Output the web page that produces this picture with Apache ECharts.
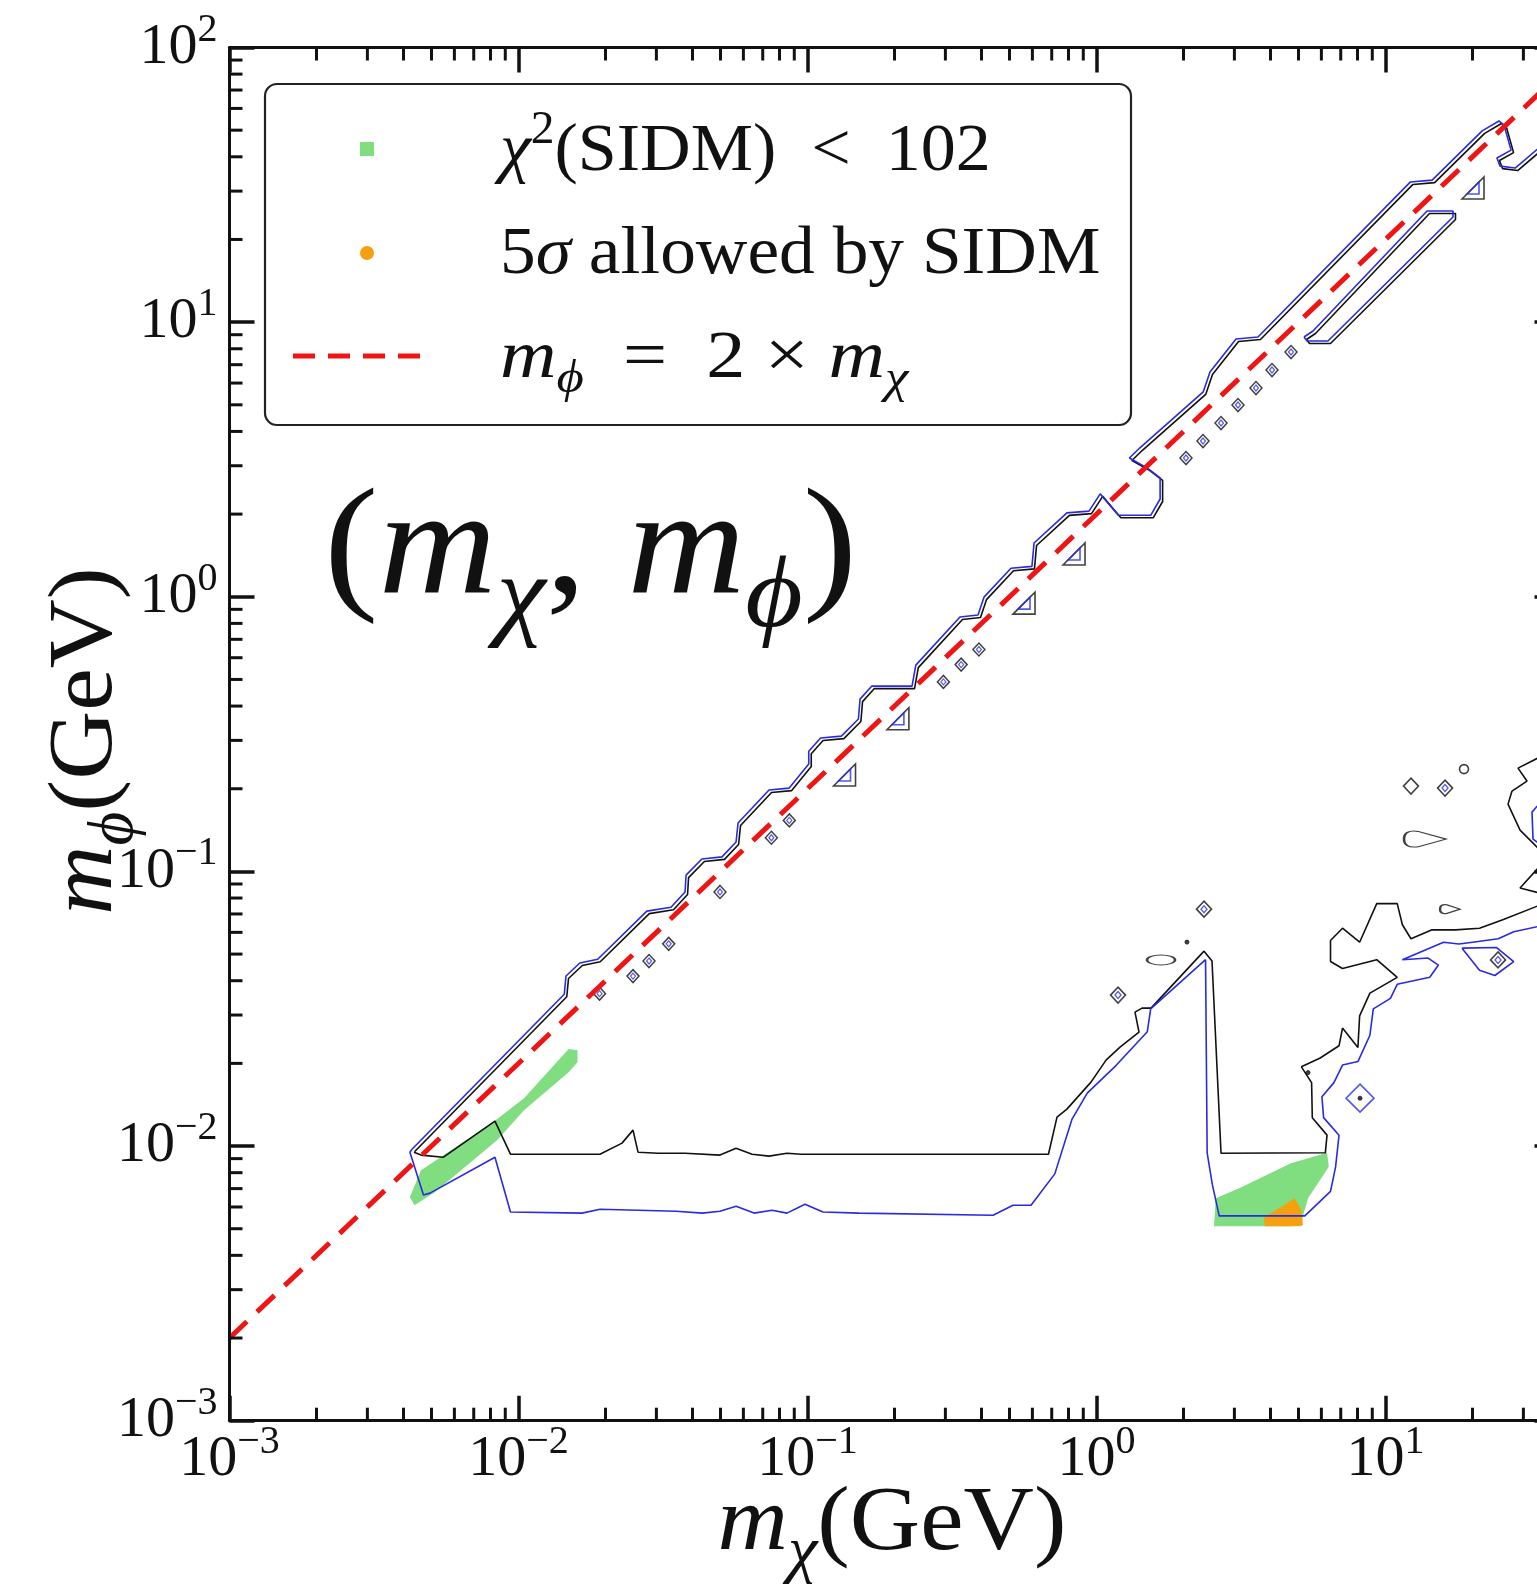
<!DOCTYPE html>
<html>
<head>
<meta charset="utf-8">
<title>m_chi vs m_phi</title>
<script src="https://cdn.jsdelivr.net/npm/echarts@6/dist/echarts.min.js"></script>
<style>
html,body{margin:0;padding:0;background:#fff;}
#chart{width:1537px;height:1586px;}
</style>
</head>
<body>
<div id="chart"></div>
<script>
var SERIF = "'Liberation Serif','Times New Roman',serif";
var BLUE = '#2a2ae0', INK = '#111111', RED = '#f01414', GREEN = '#80dd80', ORANGE = '#f5a00f';

// axis ranges (GeV)
var xRange = [0.001, 40];
var yRange = [0.001, 100];
var decades = [-3, -2, -1, 0, 1];

// m_phi = 2 m_chi
var redLine = [[0.001, 0.002], [50, 100]];

// upper edge of the allowed strip along the diagonal (blue, black just inside)
var bandEdge = [[34.2,43.4],[28.1,36.4],[24.9,37.0],[24.3,39.6],[27.2,42.3],[25.7,52.2],[24.7,54.0],[21.6,49.7],[14.5,32.9],[12.2,32.4],
  [3.62,8.83],[3.04,8.68],[2.47,6.58],[2.34,5.57],[1.41,3.48],[1.30,3.20],[1.50,2.94],[1.66,2.71],[1.66,2.27],[1.54,1.98],[1.19,1.98],
  [1.03,2.37],[0.942,2.05],[0.790,2.02],[0.608,1.57],[0.598,1.29],[0.506,1.27],[0.408,0.997],[0.389,0.858],[0.337,0.844],[0.237,0.564],
  [0.230,0.473],[0.167,0.473],[0.152,0.424],[0.150,0.359],[0.131,0.311],[0.111,0.306],[0.101,0.274],[0.101,0.246],[0.0863,0.201],
  [0.0736,0.198],[0.0575,0.150],[0.0566,0.128],[0.0506,0.113],[0.0431,0.111],[0.0380,0.0969],[0.0377,0.0841],[0.0337,0.0741],
  [0.0278,0.0717],[0.0188,0.0479],[0.0163,0.0464],[0.0146,0.0416],[0.0144,0.0357],[0.00428,0.00974]];

// lower boundary, black contour
var blackLower = [[0.00435,0.0095],[0.00460,0.00927],[0.00550,0.00911],[0.00829,0.01232],[0.00938,0.00934],[0.01914,0.00934],
  [0.02281,0.01025],[0.0249,0.01143],[0.02592,0.0095],[0.03039,0.00942],[0.0377,0.00942],[0.0498,0.00927],[0.0566,0.00982],
  [0.0643,0.00934],[0.0736,0.00919],[0.0849,0.00942],[0.095,0.00934],[0.682,0.00934],[0.730,0.01275],[0.790,0.01363],[0.957,0.01709],
  [1.079,0.02055],[1.206,0.02291],[1.403,0.02598],[1.359,0.03073],[1.437,0.03178],[1.544,0.03178],[2.355,0.05125],[2.510,0.04716],
  [2.697,0.00942],[6.191,0.00945],[6.276,0.01096],[5.581,0.01269],[5.550,0.01702],[5.117,0.01943],[5.943,0.02092],[6.904,0.02318],
  [7.099,0.02688],[8.027,0.02284],[8.137,0.02978],[8.831,0.03603],[10.98,0.04115],[9.324,0.04771],[7.099,0.04430],[6.452,0.04697],
  [6.452,0.05603],[7.099,0.06211],[8.137,0.05524],[9.324,0.07632],[10.98,0.07632],[11.44,0.06396],[12.25,0.05688],[14.43,0.06124],
  [17.47,0.06124],[21.15,0.06211],[25.59,0.06686],[34.2,0.07538]];

// lower boundary, blue contour
var blueLower = [[0.00428,0.00974],[0.00421,0.0095],[0.00469,0.00663],[0.00494,0.00674],[0.00829,0.00911],[0.00938,0.00575],
  [0.01659,0.0057],[0.01914,0.00589],[0.0351,0.00579],[0.0433,0.0057],[0.0498,0.00579],[0.0566,0.00604],[0.0653,0.0057],
  [0.0754,0.00584],[0.0849,0.0057],[0.098,0.00614],[0.1131,0.00575],[0.1508,0.0057],[0.4385,0.0056],[0.514,0.00609],[0.5935,0.00609],
  [0.7173,0.00792],[0.822,0.0125],[0.929,0.01559],[1.172,0.01972],[1.499,0.02608],[1.540,0.03157],[2.384,0.04771],[2.415,0.00945],
  [2.516,0.00725],[2.658,0.00557],[5.258,0.00557],[6.452,0.00684],[6.719,0.0084],[6.904,0.01095],[6.107,0.01269],[6.025,0.01513],
  [6.63,0.01702],[7.099,0.01972],[8.027,0.02031],[8.831,0.02532],[9.073,0.03157],[10.4,0.0345],[10.98,0.03881],[14.23,0.04115],
  [15.24,0.04561],[14.04,0.04837],[11.44,0.04771],[15.88,0.05524],[17.95,0.0544],[20.02,0.05524],[24.56,0.05688],[27.77,0.0603],
  [34.2,0.06322]];
var blueHook = [[18.40,0.05256],[21.15,0.04363],[23.90,0.04178],[27.77,0.04697],[24.23,0.05283],[18.40,0.05256]];

// fragments at the right edge
var blackEdgeA = [[34.2,0.2608],[28.74,0.2378],[30.87,0.2133],[27.40,0.1961],[26.54,0.1758],[29.21,0.1414],[34.2,0.1196]];
var blackEdgeB = [[34.2,0.1045],[29.21,0.0870],[34.2,0.0834]];
var blueEdge = [[34.2,0.1773],[32.13,0.1644],[32.4,0.1311],[34.2,0.1257]];

// long thin island below the diagonal
var longIsland = [[5.224,8.826],[5.612,9.282],[13.92,25.38],[17.12,25.38],[17.12,24.14],[6.324,8.536],[5.351,8.536],[5.224,8.826]];

// small islands
var smallDiamonds = [[0.01907,0.03589],[0.0249,0.04157],[0.02829,0.04716],[0.03309,0.05449],[0.0498,0.0842],[0.075,0.1326],
  [0.0865,0.1534],[0.2953,0.4899],[0.3401,0.5663],[0.3918,0.6428],[2.04,3.2],[2.336,3.69],[2.697,4.291],[3.087,4.991],
  [3.563,5.754],[4.048,6.693],[4.71,7.783]];
var midDiamonds = [[1.187,0.03545],[2.355,0.07289],[16.07,0.2011],[24.51,0.04761]];
var plainDiamonds = [[12.25,0.2045]];
var rings = [[18.69,0.2358]];
var ovals = [[1.672,0.04761]];
var bigDrops = [[13.70,0.1311]];
var smallDrops = [[16.72,0.07289]];
var blueDiamond = [[8.163,0.01494]];
var dots = [[2.056,0.05528],[5.393,0.01851],[8.163,0.01494]];
var triangles = [[0.1343,0.2245],[0.2055,0.3598],[0.5613,0.9484],[0.836,1.431],[20.08,30.78]];

// filled regions
var greenLeft = [[0.00421,0.00652],[0.0046,0.00817],[0.00816,0.01222],[0.01045,0.01494],[0.01491,0.02254],[0.016,0.02235],
  [0.016,0.02021],[0.01491,0.01858],[0.01045,0.01351],[0.00843,0.01051],[0.00513,0.00679],[0.00437,0.00609]];
var greenRight = [[2.587,0.00646],[3.129,0.00704],[4.71,0.00866],[6.276,0.00945],[6.366,0.0084],[5.393,0.00646],[5.183,0.00557],
  [5.101,0.00511],[2.55,0.00511]];
var orangeBlob = [[3.789,0.00549],[4.455,0.00609],[4.843,0.00646],[5.101,0.00589],[5.183,0.00515],[4.71,0.00511],[3.828,0.00511]];

// minor ticks 2..9 x 10^k
var xMinor = [], yMinor = [];
decades.forEach(function (e) {
    for (var m = 2; m <= 9; m++) {
        var v = m * Math.pow(10, e);
        if (v < xRange[1]) xMinor.push([v, 1]);
        yMinor.push([1, v]);
    }
});

function tickLabel(v) {
    var l = Math.log(v) / Math.LN10;
    var e = Math.round(l);
    if (Math.abs(l - e) > 1e-6) return '';
    return '{b|10}{s|' + (e < 0 ? '\u2212' + (-e) : e) + '}';
}

function richFor(F) {
    var s = Math.round(F * 0.68), L = Math.round(F * 1.3);
    return {
        n: {fontSize: F, fontFamily: SERIF, lineHeight: L, fill: INK},
        i: {fontSize: F, fontFamily: SERIF, fontStyle: 'italic', lineHeight: L, fill: INK},
        sub: {fontSize: s, fontFamily: SERIF, fontStyle: 'italic', lineHeight: s, verticalAlign: 'bottom', fill: INK},
        sup: {fontSize: s, fontFamily: SERIF, lineHeight: s, verticalAlign: 'top', fill: INK}
    };
}

function logAxis(pos, isX, showLabel) {
    return {
        type: 'log', logBase: 10, position: pos,
        min: isX ? xRange[0] : yRange[0], max: isX ? xRange[1] : yRange[1],
        axisLine: {show: true, onZero: false, lineStyle: {color: INK, width: 3}},
        axisTick: {show: true, inside: true, length: 25, lineStyle: {color: INK, width: 3.5}},
        splitLine: {show: false},
        axisLabel: {
            show: showLabel, margin: isX ? 2 : 12, formatter: tickLabel,
            showMinLabel: true, showMaxLabel: true,
            rich: {
                b: {fontFamily: SERIF, fontSize: 58, lineHeight: 75, color: INK},
                s: {fontFamily: SERIF, fontSize: 40, lineHeight: 40, verticalAlign: 'top', color: INK}
            }
        },
        z: 10
    };
}

function contour(data, color, extra) {
    var ls = {color: color, width: 1.6};
    if (extra) { ls.shadowColor = INK; ls.shadowOffsetX = 2.5; ls.shadowOffsetY = 2.5; ls.shadowBlur = 0; }
    return {type: 'line', data: data, showSymbol: false, symbol: 'none', lineStyle: ls, z: 2, silent: true, clip: true};
}

function area(points, color) {
    return {
        type: 'custom', data: [[1, 1]], z: 1, silent: true,
        renderItem: function (params, api) {
            if (params.dataIndex !== 0) return;
            var pts = points.map(function (p) { return api.coord(p); });
            return {type: 'polygon', shape: {points: pts}, style: {fill: color}};
        }
    };
}

function islands(data, symbol, size, color, width, fill) {
    return {
        type: 'scatter', data: data, symbol: symbol, symbolSize: size, silent: true, z: 3,
        itemStyle: {color: fill || 'rgba(0,0,0,0)', borderColor: color, borderWidth: width}
    };
}

function minorTicks(data, isX) {
    return {
        type: 'custom', data: data, z: 12, silent: true,
        renderItem: function (params, api) {
            var cs = params.coordSys, st = {stroke: INK, lineWidth: 3}, len = 13;
            if (isX) {
                var px = api.coord([api.value(0), 1])[0];
                return {type: 'group', children: [
                    {type: 'line', shape: {x1: px, y1: cs.y + cs.height, x2: px, y2: cs.y + cs.height - len}, style: st},
                    {type: 'line', shape: {x1: px, y1: cs.y, x2: px, y2: cs.y + len}, style: st}
                ]};
            }
            var py = api.coord([1, api.value(1)])[1];
            return {type: 'group', children: [
                {type: 'line', shape: {x1: cs.x, y1: py, x2: cs.x + len, y2: py}, style: st},
                {type: 'line', shape: {x1: cs.x + cs.width, y1: py, x2: cs.x + cs.width - len, y2: py}, style: st}
            ]};
        }
    };
}

var TRI = 'path://M0,10 L10,0 L10,10 Z';
var DROP = 'path://M2,5 Q2,0 8,1 L20,5 L8,9 Q2,10 2,5 Z';

var chart = echarts.init(document.getElementById('chart'), null, {renderer: 'canvas'});
var option = {
    backgroundColor: '#ffffff',
    animation: false,
    grid: {left: 229.5, top: 47.5, right: -22.5, bottom: 165.3, containLabel: false, outerBoundsMode: 'none'},
    xAxis: [logAxis('bottom', true, true), logAxis('top', true, false)],
    yAxis: [logAxis('left', false, true), logAxis('right', false, false)],
    series: [
        area(greenLeft, GREEN),
        area(greenRight, GREEN),
        area(orangeBlob, ORANGE),
        contour(bandEdge, BLUE, true),
        contour(blackLower, INK),
        contour(blueLower, BLUE),
        contour(blueHook, BLUE),
        contour(blackEdgeA, INK),
        contour(blackEdgeB, INK),
        contour(blueEdge, BLUE),
        contour(longIsland, BLUE, true),
        islands(smallDiamonds, 'diamond', [12, 13], INK, 1.5),
        islands(smallDiamonds, 'diamond', [5, 6], BLUE, 1.2),
        islands(midDiamonds, 'diamond', [15, 16], INK, 1.6),
        islands(midDiamonds, 'diamond', [6, 7], BLUE, 1.3),
        islands(plainDiamonds, 'diamond', [15, 16], INK, 1.6),
        islands(rings, 'circle', 9, INK, 1.6),
        islands(ovals, 'circle', [28, 10], INK, 1.6),
        islands(bigDrops, DROP, [42, 16], INK, 1.6),
        islands(smallDrops, DROP, [20, 9], INK, 1.6),
        islands(blueDiamond, 'diamond', [28, 28], BLUE, 1.6),
        islands(dots, 'circle', 4, INK, 1, INK),
        islands(triangles, TRI, [22, 22], INK, 1.6),
        islands(triangles, TRI, [12, 12], BLUE, 1.6),
        {type: 'line', data: redLine, showSymbol: false, symbol: 'none', z: 4, silent: true, clip: true,
            lineStyle: {color: RED, width: 5, type: [24, 14]}},
        minorTicks(xMinor, true),
        minorTicks(yMinor, false)
    ],
    graphic: {elements: [
        {type: 'rect', z: 100, shape: {x: 265, y: 84, width: 866, height: 341, r: 12},
            style: {fill: '#ffffff', stroke: '#222', lineWidth: 2.2}},
        {type: 'rect', z: 101, shape: {x: 360, y: 142, width: 14, height: 14}, style: {fill: GREEN}},
        {type: 'circle', z: 101, shape: {cx: 367, cy: 253, r: 7}, style: {fill: ORANGE}},
        {type: 'line', z: 101, shape: {x1: 293, y1: 356, x2: 425, y2: 356},
            style: {stroke: RED, lineWidth: 5, lineDash: [22, 13]}},
        {type: 'text', z: 101, x: 500, y: 152, scaleX: 1.03,
            style: {text: '{i|\u03c7}{sup|2}{n|(SIDM)  <  102}', rich: richFor(68), align: 'left', verticalAlign: 'middle'}},
        {type: 'text', z: 101, x: 500, y: 255, scaleX: 1.05,
            style: {text: '{n|5}{i|\u03c3}{n| allowed by SIDM}', rich: richFor(68), align: 'left', verticalAlign: 'middle'}},
        {type: 'text', z: 101, x: 500, y: 359, scaleX: 1.15,
            style: {text: '{i|m}{sub|\u03d5}{n|  =  2 \u00d7 }{i|m}{sub|\u03c7}', rich: richFor(68), align: 'left', verticalAlign: 'middle'}},
        {type: 'text', z: 101, x: 324, y: 553, scaleX: 1.09,
            style: {text: '{n|(}{i|m}{sub|\u03c7}{n|, }{i|m}{sub|\u03d5}{n|)}', rich: richFor(150), align: 'left', verticalAlign: 'middle'}},
        {type: 'text', z: 101, x: 892, y: 1525, scaleX: 1.06,
            style: {text: '{i|m}{sub|\u03c7}{n|(GeV)}', rich: richFor(92), align: 'center', verticalAlign: 'middle'}},
        {type: 'text', z: 101, x: 87, y: 741, rotation: Math.PI / 2, scaleX: 1.04,
            style: {text: '{i|m}{sub|\u03d5}{n|(GeV)}', rich: richFor(92), align: 'center', verticalAlign: 'middle'}}
    ]}
};
chart.setOption(option);
</script>
</body>
</html>
